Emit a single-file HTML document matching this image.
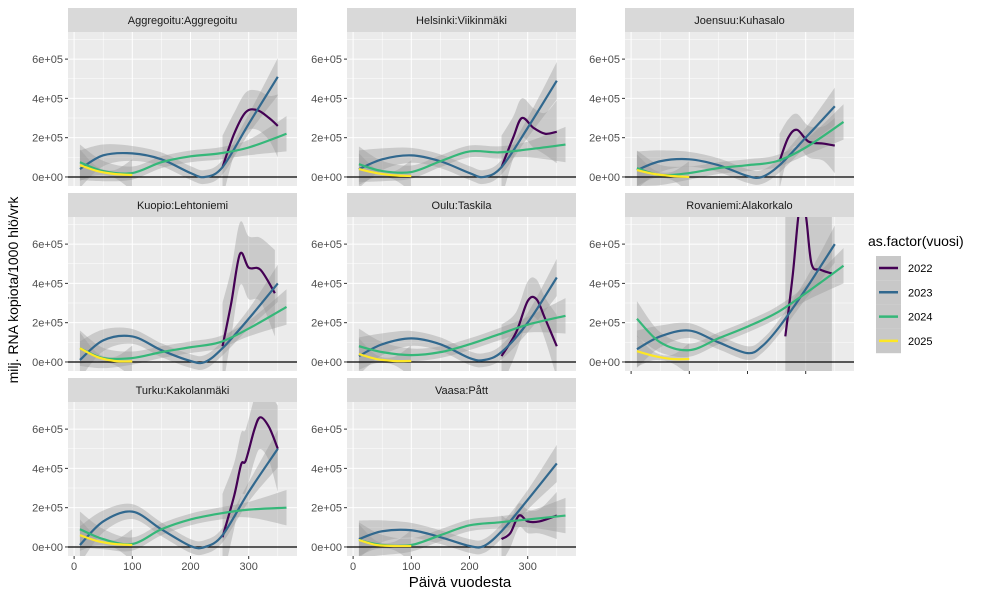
<!DOCTYPE html>
<html><head><meta charset="utf-8"><style>
body{margin:0;background:#fff;}
svg{display:block;font-family:"Liberation Sans","DejaVu Sans",sans-serif;}
</style></head><body>
<svg id="chart" width="1000" height="600" viewBox="0 0 1000 600"></svg>
<script>
// data (values in units of 1e5)
const panelNames = ["Aggregoitu:Aggregoitu","Helsinki:Viikinmäki","Joensuu:Kuhasalo","Kuopio:Lehtoniemi","Oulu:Taskila","Rovaniemi:Alakorkalo","Turku:Kakolanmäki","Vaasa:Pått"];
const years = ["2022","2023","2024","2025"];
const days2022 = [[255,275,295,315,335,350],[255,275,290,310,330,350],[255,270,285,305,330,350],[255,270,285,300,320,345],[255,280,300,315,330,350],[265,278,290,300,310,325,345],[255,275,287,295,310,320,335,350],[255,270,285,300,320,350]];
const vals2022 = [[0.5,2.2,3.3,3.4,3.0,2.6],[0.5,2.0,3.0,2.5,2.2,2.3],[0.8,2.0,2.4,1.8,1.7,1.6],[0.8,3.0,5.5,4.8,4.7,3.5],[0.3,1.5,3.1,3.2,2.2,0.8],[1.3,4.5,8.0,7.5,5.0,4.7,4.5],[0.5,2.6,4.2,4.4,6.0,6.6,6.1,5.0],[0.4,0.7,1.6,1.3,1.3,1.6]];
const ribbon2022 = [1.0,1.0,0.8,1.6,1.0,12,1.6,0.6];
const days2023 = [10,50,100,150,200,225,255,300,350];
const vals2023 = [[0.4,1.1,1.2,0.9,0.2,0.0,0.5,2.7,5.1],[0.4,0.9,1.1,0.8,0.2,0.0,0.5,2.5,4.9],[0.35,0.8,0.9,0.6,0.05,0.0,0.6,2.0,3.6],[0.1,1.1,1.3,0.6,0.05,0.0,0.7,2.2,4.0],[0.3,0.9,1.2,0.9,0.2,0.1,0.5,2.0,4.3],[0.65,1.3,1.6,1.0,0.45,0.8,1.8,3.7,6.0],[0.1,1.3,1.8,0.9,0.05,0.0,0.6,2.8,5.0],[0.4,0.8,0.85,0.5,0.05,0.05,0.8,2.4,4.25]];
const days2024 = [10,50,100,150,200,250,300,365];
const vals2024 = [[0.75,0.3,0.2,0.75,1.05,1.2,1.5,2.2],[0.65,0.3,0.25,0.8,1.3,1.25,1.4,1.65],[0.45,0.1,0.2,0.45,0.6,0.8,1.5,2.8],[0.7,0.2,0.2,0.5,0.75,1.0,1.7,2.8],[0.8,0.5,0.35,0.5,0.9,1.4,1.9,2.35],[2.2,1.0,0.6,1.2,1.8,2.5,3.5,4.9],[0.9,0.4,0.15,0.9,1.4,1.7,1.9,2.0],[0.35,0.1,0.1,0.6,1.1,1.25,1.4,1.6]];
const days2025 = [10,40,70,100];
const vals2025 = [[0.6,0.3,0.15,0.1],[0.4,0.2,0.08,0.05],[0.35,0.15,0.05,0.0],[0.7,0.25,0.05,0.03],[0.4,0.15,0.05,0.05],[0.55,0.3,0.15,0.15],[0.6,0.3,0.15,0.1],[0.35,0.1,0.05,0.05]];
const yTicks = [0,2,4,6];
const yTickLabels = ["0e+00","2e+05","4e+05","6e+05"];
const xTicks = [0,100,200,300];
const colors = ["#440154","#31688E","#35B779","#FDE725"];

const NS="http://www.w3.org/2000/svg";
const svg=document.getElementById('chart');
function mk(tag,attrs,parent){const e=document.createElementNS(NS,tag);for(const k in attrs)e.setAttribute(k,attrs[k]);(parent||svg).appendChild(e);return e;}
const colX=[68,347,625], rowY=[32,217,402], PW=229, PH=154;
const XMIN=-10.5, XMAX=383, YMIN=-0.46, YMAX=7.38;
function smooth(pts){let d="M"+pts[0][0]+","+pts[0][1];for(let i=0;i<pts.length-1;i++){const p0=pts[Math.max(0,i-1)],p1=pts[i],p2=pts[i+1],p3=pts[Math.min(pts.length-1,i+2)];d+=" C"+(p1[0]+(p2[0]-p0[0])/6)+","+(p1[1]+(p2[1]-p0[1])/6)+" "+(p2[0]-(p3[0]-p1[0])/6)+","+(p2[1]-(p3[1]-p1[1])/6)+" "+p2[0]+","+p2[1];}return d;}
function smoothCont(pts){return smooth(pts).replace(/^M/,"L");}

panelNames.forEach((name,pi)=>{
  const c=pi%3, r=Math.floor(pi/3);
  const x0=colX[c], y0=rowY[r];
  const sx=d=>x0+(d-XMIN)/(XMAX-XMIN)*PW;
  const sy=v=>y0+PH-(v-YMIN)/(YMAX-YMIN)*PH;
  const g=mk('g',{});
  
  
  const strip=mk('rect',{x:x0,y:y0-24,width:PW,height:24,fill:'#D9D9D9'},g);
  
  
  const st=mk('text',{x:x0+PW/2,y:y0-8,'text-anchor':'middle','font-size':11,fill:'#1a1a1a'},g);st.textContent=name;
  
  
  const bg=mk('rect',{x:x0,y:y0,width:PW,height:PH,fill:'#EBEBEB'},g);
  
  
  [1,3,5,7].forEach(v=>mk('line',{x1:x0,x2:x0+PW,y1:sy(v),y2:sy(v),stroke:'#fff','stroke-width':0.5},g));
  [50,150,250,350].forEach(v=>mk('line',{x1:sx(v),x2:sx(v),y1:y0,y2:y0+PH,stroke:'#fff','stroke-width':0.5},g));
  yTicks.forEach((v,i)=>{mk('line',{x1:x0,x2:x0+PW,y1:sy(v),y2:sy(v),stroke:'#fff','stroke-width':1},g);
    mk('line',{x1:x0-3,x2:x0,y1:sy(v),y2:sy(v),stroke:'#333','stroke-width':1},g);
    const t=mk('text',{x:x0-5,y:sy(v)+4,'text-anchor':'end','font-size':11,fill:'#4d4d4d'},g);t.textContent=yTickLabels[i];
    
    });
  xTicks.forEach(v=>mk('line',{x1:sx(v),x2:sx(v),y1:y0,y2:y0+PH,stroke:'#fff','stroke-width':1},g));
  const cp=mk('clipPath',{id:'clip'+pi},g);mk('rect',{x:x0,y:y0,width:PW,height:PH},cp);
  const inner=mk('g',{'clip-path':'url(#clip'+pi+')'},g);
  const series=[[days2022[pi],vals2022[pi]],[days2023,vals2023[pi]],[days2024,vals2024[pi]],[days2025,vals2025[pi]]];
  const hwBase=[ribbon2022[pi],0.35,0.3,0.2];
  series.forEach(([ds,vs],yi)=>{
    const lo=ds[0],hi=ds[ds.length-1],mid=(lo+hi)/2,half=(hi-lo)/2;
    const hw=d=>hwBase[yi]+0.6*Math.pow((d-mid)/half,4);
    const up=ds.map((d,i)=>[sx(d),sy(vs[i]+hw(d))]);
    const dn=ds.map((d,i)=>[sx(d),sy(vs[i]-hw(d))]).reverse();
    const rib=mk('path',{d:smooth(up)+" "+smoothCont(dn)+" Z",fill:'#999','fill-opacity':0.4},inner);
    
    
  });
  mk('line',{x1:x0,x2:x0+PW,y1:sy(0),y2:sy(0),stroke:'#000','stroke-width':1.2},inner);
  series.forEach(([ds,vs],yi)=>{
    const ln=mk('path',{d:smooth(ds.map((d,i)=>[sx(d),sy(vs[i])])),fill:'none',stroke:colors[yi],'stroke-width':2.2},inner);
    
    
  });
  const bottom = (r===2) || (r===1 && c===2);
  if(bottom){xTicks.forEach(v=>{mk('line',{x1:sx(v),x2:sx(v),y1:y0+PH,y2:y0+PH+3,stroke:'#333'},g);
    if(r===2){const t=mk('text',{x:sx(v),y:y0+PH+14,'text-anchor':'middle','font-size':11,fill:'#4d4d4d'},g);t.textContent=v;
    
    }});}
});
const yt=mk('text',{x:0,y:0,transform:'translate(18,290) rotate(-90)','text-anchor':'middle','font-size':14,fill:'#000'});yt.textContent="milj. RNA kopiota/1000 hlö/vrk";


const xt=mk('text',{x:460,y:587,'text-anchor':'middle','font-size':15,fill:'#000'});xt.textContent="Päivä vuodesta";


const lg=mk('g',{});


const lt=mk('text',{x:868,y:246,'font-size':14,fill:'#000'},lg);lt.textContent="as.factor(vuosi)";
years.forEach((y,i)=>{const cy=268+i*24.3;
  mk('rect',{x:876,y:cy-12,width:25,height:24.3,fill:'#C8C8C8'},lg);
  mk('line',{x1:879,x2:898,y1:cy,y2:cy,stroke:colors[i],'stroke-width':2.5},lg);
  const t=mk('text',{x:908,y:cy+4,'font-size':11,fill:'#000'},lg);t.textContent=y;
  
  });
</script>
</body></html>
